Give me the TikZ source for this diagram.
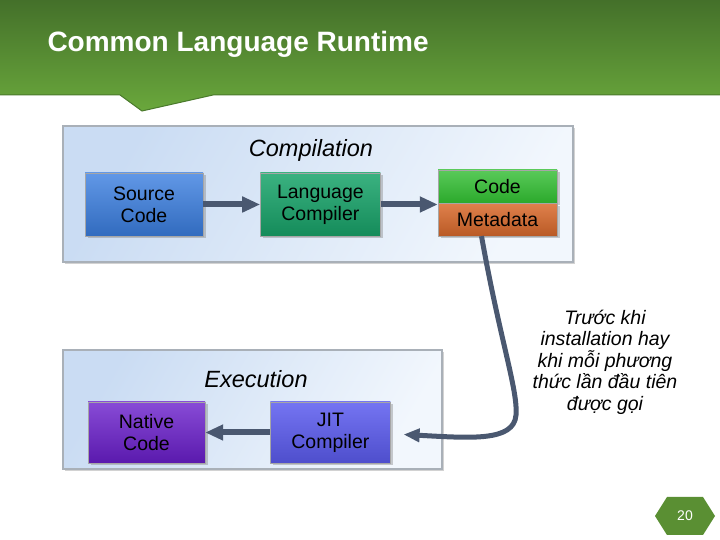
\documentclass[tikz,border=0pt]{standalone}
\usepackage{fontspec}
\setmainfont{Liberation Sans}
\usetikzlibrary{positioning, arrows.meta, shadows, calc}
\definecolor{hdDark}{HTML}{44702A}
\definecolor{hdLight}{HTML}{6AA83C}
\definecolor{hdLine}{HTML}{4A7A2C}
\definecolor{panelBlue}{HTML}{CADCF3}
\definecolor{panelLight}{HTML}{F2F7FD}
\definecolor{panelEdge}{HTML}{A9B0B8}
\definecolor{arrowGray}{HTML}{4A5870}
\definecolor{srcBlue}{HTML}{3A7EE0}
\definecolor{langGreen}{HTML}{18A46A}
\definecolor{codeGreen}{HTML}{30BC30}
\definecolor{metaOrange}{HTML}{DA6A2C}
\definecolor{nativePurple}{HTML}{6A1ECC}
\definecolor{jitBlue}{HTML}{5C5CF0}
\tikzset{
  every node/.style={font=\fontsize{19.5}{22}\selectfont},
  panel/.style={draw=panelEdge, line width=1.2pt, left color=panelBlue, right color=panelLight,
                shading angle=60, drop shadow={shadow xshift=1.5pt, shadow yshift=-2pt, opacity=0.35}},
  tag/.style={font=\fontsize{23.5}{26}\selectfont\itshape},
  box/.style={inner sep=0pt, align=center, text=black, draw=black!35, line width=0.4pt,
              drop shadow={shadow xshift=2.5pt, shadow yshift=-2.5pt, opacity=0.4}},
  boxSrc/.style={box, top color=srcBlue!80!white, bottom color=srcBlue!85!black},
  boxLang/.style={box, top color=langGreen!85!white, bottom color=langGreen!85!black},
  boxCode/.style={box, top color=codeGreen!80!white, bottom color=codeGreen!90!black},
  boxMeta/.style={box, top color=metaOrange!85!white, bottom color=metaOrange!85!black},
  boxNative/.style={box, top color=nativePurple!80!white, bottom color=nativePurple!85!black},
  boxJit/.style={box, top color=jitBlue!85!white, bottom color=jitBlue!85!black},
  big/.style={minimum width=118pt, minimum height=63pt},
  half/.style={minimum width=119pt, minimum height=32.5pt},
  arr/.style={-{Triangle[length=18pt, width=15pt]}, line width=6pt, draw=arrowGray},
  arrc/.style={-{Triangle[length=16pt, width=13pt]}, line width=5pt, draw=arrowGray},
}
\begin{document}
\begin{tikzpicture}[x=1pt, y=1pt]
  \useasboundingbox (0,0) rectangle (720,540);
  \fill[white] (0,0) rectangle (720,540);
  % header band with tab
  \shade[top color=hdDark, bottom color=hdLight]
    (0,540) -- (720,540) -- (720,445) -- (213,445) -- (142,429) -- (120,445) -- (0,445) -- cycle;
  \draw[hdLine, line width=1pt] (0,445) -- (120,445) -- (142,429) -- (213,445) -- (720,445);
  \node[anchor=west, text=white, font=\fontsize{28}{32}\selectfont\bfseries] (title) at (44,496)
    {Common Language Runtime};
  % panels
  \draw[panel] (63,278) rectangle (573,414);
  \draw[panel] (63,71) rectangle (442,190);
  \node[tag] (comp) at (311,390) {Compilation};
  \node[tag] (exec) at (256,161) {Execution};
  % compilation
  \node[boxSrc, big] (src) at (144,335.5) {Source\\Code};
  \node[boxLang, big, minimum width=120pt, right=57pt of src] (lang) {Language\\Compiler};
  \node[boxCode, half, minimum height=33pt] (code) at (497.5,353.5) {Code};
  \node[boxMeta, half, below=0pt of code] (meta) {Metadata};
  \draw[arr] (src) -- (lang);
  \draw[arr] (lang.east) -- (lang.east -| meta.west);
  % execution
  \node[boxNative, big, minimum width=117pt, minimum height=61pt] (native) at (146.5,107.5) {Native\\Code};
  \node[boxJit, big, minimum width=120pt, minimum height=61pt, right=65pt of native] (jit) {JIT\\Compiler};
  \draw[arr] (jit) -- (native);
  \coordinate[right=13pt of jit.east, yshift=-2pt] (jitin);
  \draw[arrc] ([xshift=-16pt]meta.south) .. controls (500,200) and (518,150) .. (516,125)
    .. controls (514,98) and (470,102) .. (jitin);
  \node[align=center, font=\fontsize{19.5}{21.5}\selectfont\itshape] (note) at (605,178)
    {Trước khi\\installation hay\\khi mỗi phương\\thức lần đầu tiên\\được gọi};
  % page number
  \fill[hdLight!85!black] (655,24) -- (667,43) -- (703,43) -- (715,24) -- (703,5) -- (667,5) -- cycle;
  \node[text=white, font=\fontsize{14}{16}\selectfont] (page) at (685,24) {20};
\end{tikzpicture}
\end{document}
